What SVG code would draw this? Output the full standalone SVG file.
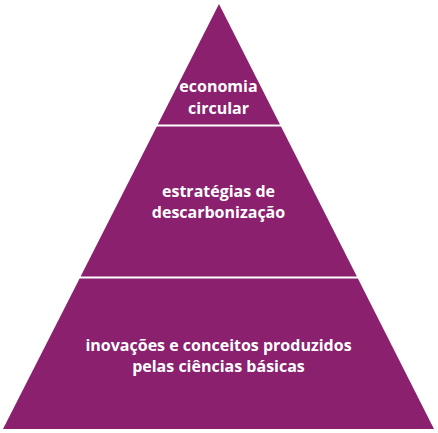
<svg xmlns="http://www.w3.org/2000/svg" width="438" height="433" viewBox="0 0 438 433">
<style>
.tier{fill:#8A206E;}
.lbl{fill:#FFFFFF;font-family:"Open Sans","Noto Sans",sans-serif;font-weight:bold;font-size:16px;text-anchor:middle;}
</style>
<rect width="438" height="433" fill="#FFFFFF"/>
<g id="tier-top">
<polygon class="tier" points="219,4 280,124.5 157.8,124.5"/>
<text class="lbl" x="218.5" y="92">economia</text>
<text class="lbl" x="218.5" y="114">circular</text>
</g>
<g id="tier-middle">
<polygon class="tier" points="156.8,126.5 281,126.5 356.9,276.5 80.6,276.5"/>
<text class="lbl" x="218.5" y="196.5">estratégias de</text>
<text class="lbl" x="218.5" y="217.5">descarbonização</text>
</g>
<g id="tier-bottom">
<polygon class="tier" points="79.6,278.5 357.9,278.5 434,429 3,429"/>
<text class="lbl" x="218.5" y="351">inovações e conceitos produzidos</text>
<text class="lbl" x="218.5" y="372">pelas ciências básicas</text>
</g>
<g id="connectors"/>
</svg>
